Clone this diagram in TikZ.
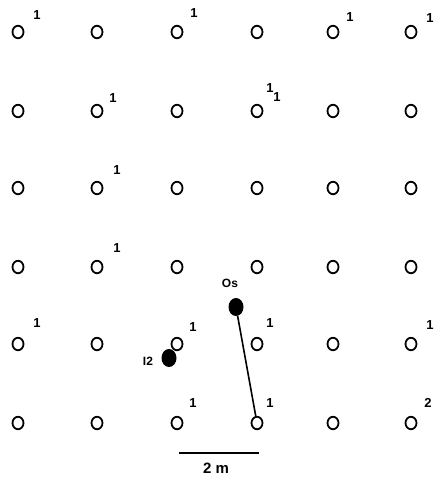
\documentclass[tikz,border=0pt]{standalone}
\usepackage{fontspec}
\setmainfont{Liberation Sans}
\usepackage{tikz}
\usetikzlibrary{shapes.geometric}

\tikzset{
  hole/.style={ellipse,draw,line width=1.8pt,minimum width=11pt,minimum height=12.5pt,inner sep=0pt},
  stake/.style={ellipse,fill=black,minimum width=15pt,minimum height=18pt,inner sep=0pt},
  tag/.style={font=\bfseries\fontsize{13}{13}\selectfont,inner sep=0pt},
  stakelabel/.style={font=\bfseries\fontsize{12}{12}\selectfont,inner sep=0pt}
}

\begin{document}
\begin{tikzpicture}[x=1pt,y=-1pt]
  \useasboundingbox (0,0) rectangle (434,479);
  % grid of holes, h-column-row
  \foreach \i/\x in {1/18,2/97,3/177,4/257,5/333,6/411}
    \foreach \j/\y in {1/32,2/111,3/188,4/267,5/344,6/423}
      \node[hole] (h-\i-\j) at (\x,\y) {};
  % counts beside some holes
  \node[tag] (t-1-1) at ([shift={(19,-17)}]h-1-1) {1};
  \node[tag] (t-3-1) at ([shift={(17,-19)}]h-3-1) {1};
  \node[tag] (t-5-1) at ([shift={(17,-15)}]h-5-1) {1};
  \node[tag] (t-6-1) at ([shift={(19,-14)}]h-6-1) {1};
  \node[tag] (t-2-2) at ([shift={(16,-13)}]h-2-2) {1};
  \node[tag] (t-4-2a) at ([shift={(13,-23)}]h-4-2) {1};
  \node[tag] (t-4-2b) at ([shift={(20,-14)}]h-4-2) {1};
  \node[tag] (t-2-3) at ([shift={(20,-18)}]h-2-3) {1};
  \node[tag] (t-2-4) at ([shift={(20,-19)}]h-2-4) {1};
  \node[tag] (t-1-5) at ([shift={(19,-21)}]h-1-5) {1};
  \node[tag] (t-3-5) at ([shift={(16,-17)}]h-3-5) {1};
  \node[tag] (t-4-5) at ([shift={(13,-21)}]h-4-5) {1};
  \node[tag] (t-6-5) at ([shift={(19,-19)}]h-6-5) {1};
  \node[tag] (t-3-6) at ([shift={(16,-20)}]h-3-6) {1};
  \node[tag] (t-4-6) at ([shift={(13,-20)}]h-4-6) {1};
  \node[tag] (t-6-6) at ([shift={(17,-20)}]h-6-6) {2};
  % marked stakes
  \node[stake] (os) at (236,307) {};
  \node[stake] (i2) at (169,358) {};
  \node[stakelabel] (os-l) at (230,283) {Os};
  \node[stakelabel] (i2-l) at (148,361) {I2};
  \draw[line width=1.6pt] (os) -- (h-4-6);
  % scale
  \coordinate (s0) at (179,453);
  \coordinate (s1) at (259,453);
  \draw[line width=1.6pt] (s0) -- (s1);
  \node[font=\bfseries\fontsize{15}{15}\selectfont] (scale) at (216,468) {2 m};
\end{tikzpicture}
\end{document}
